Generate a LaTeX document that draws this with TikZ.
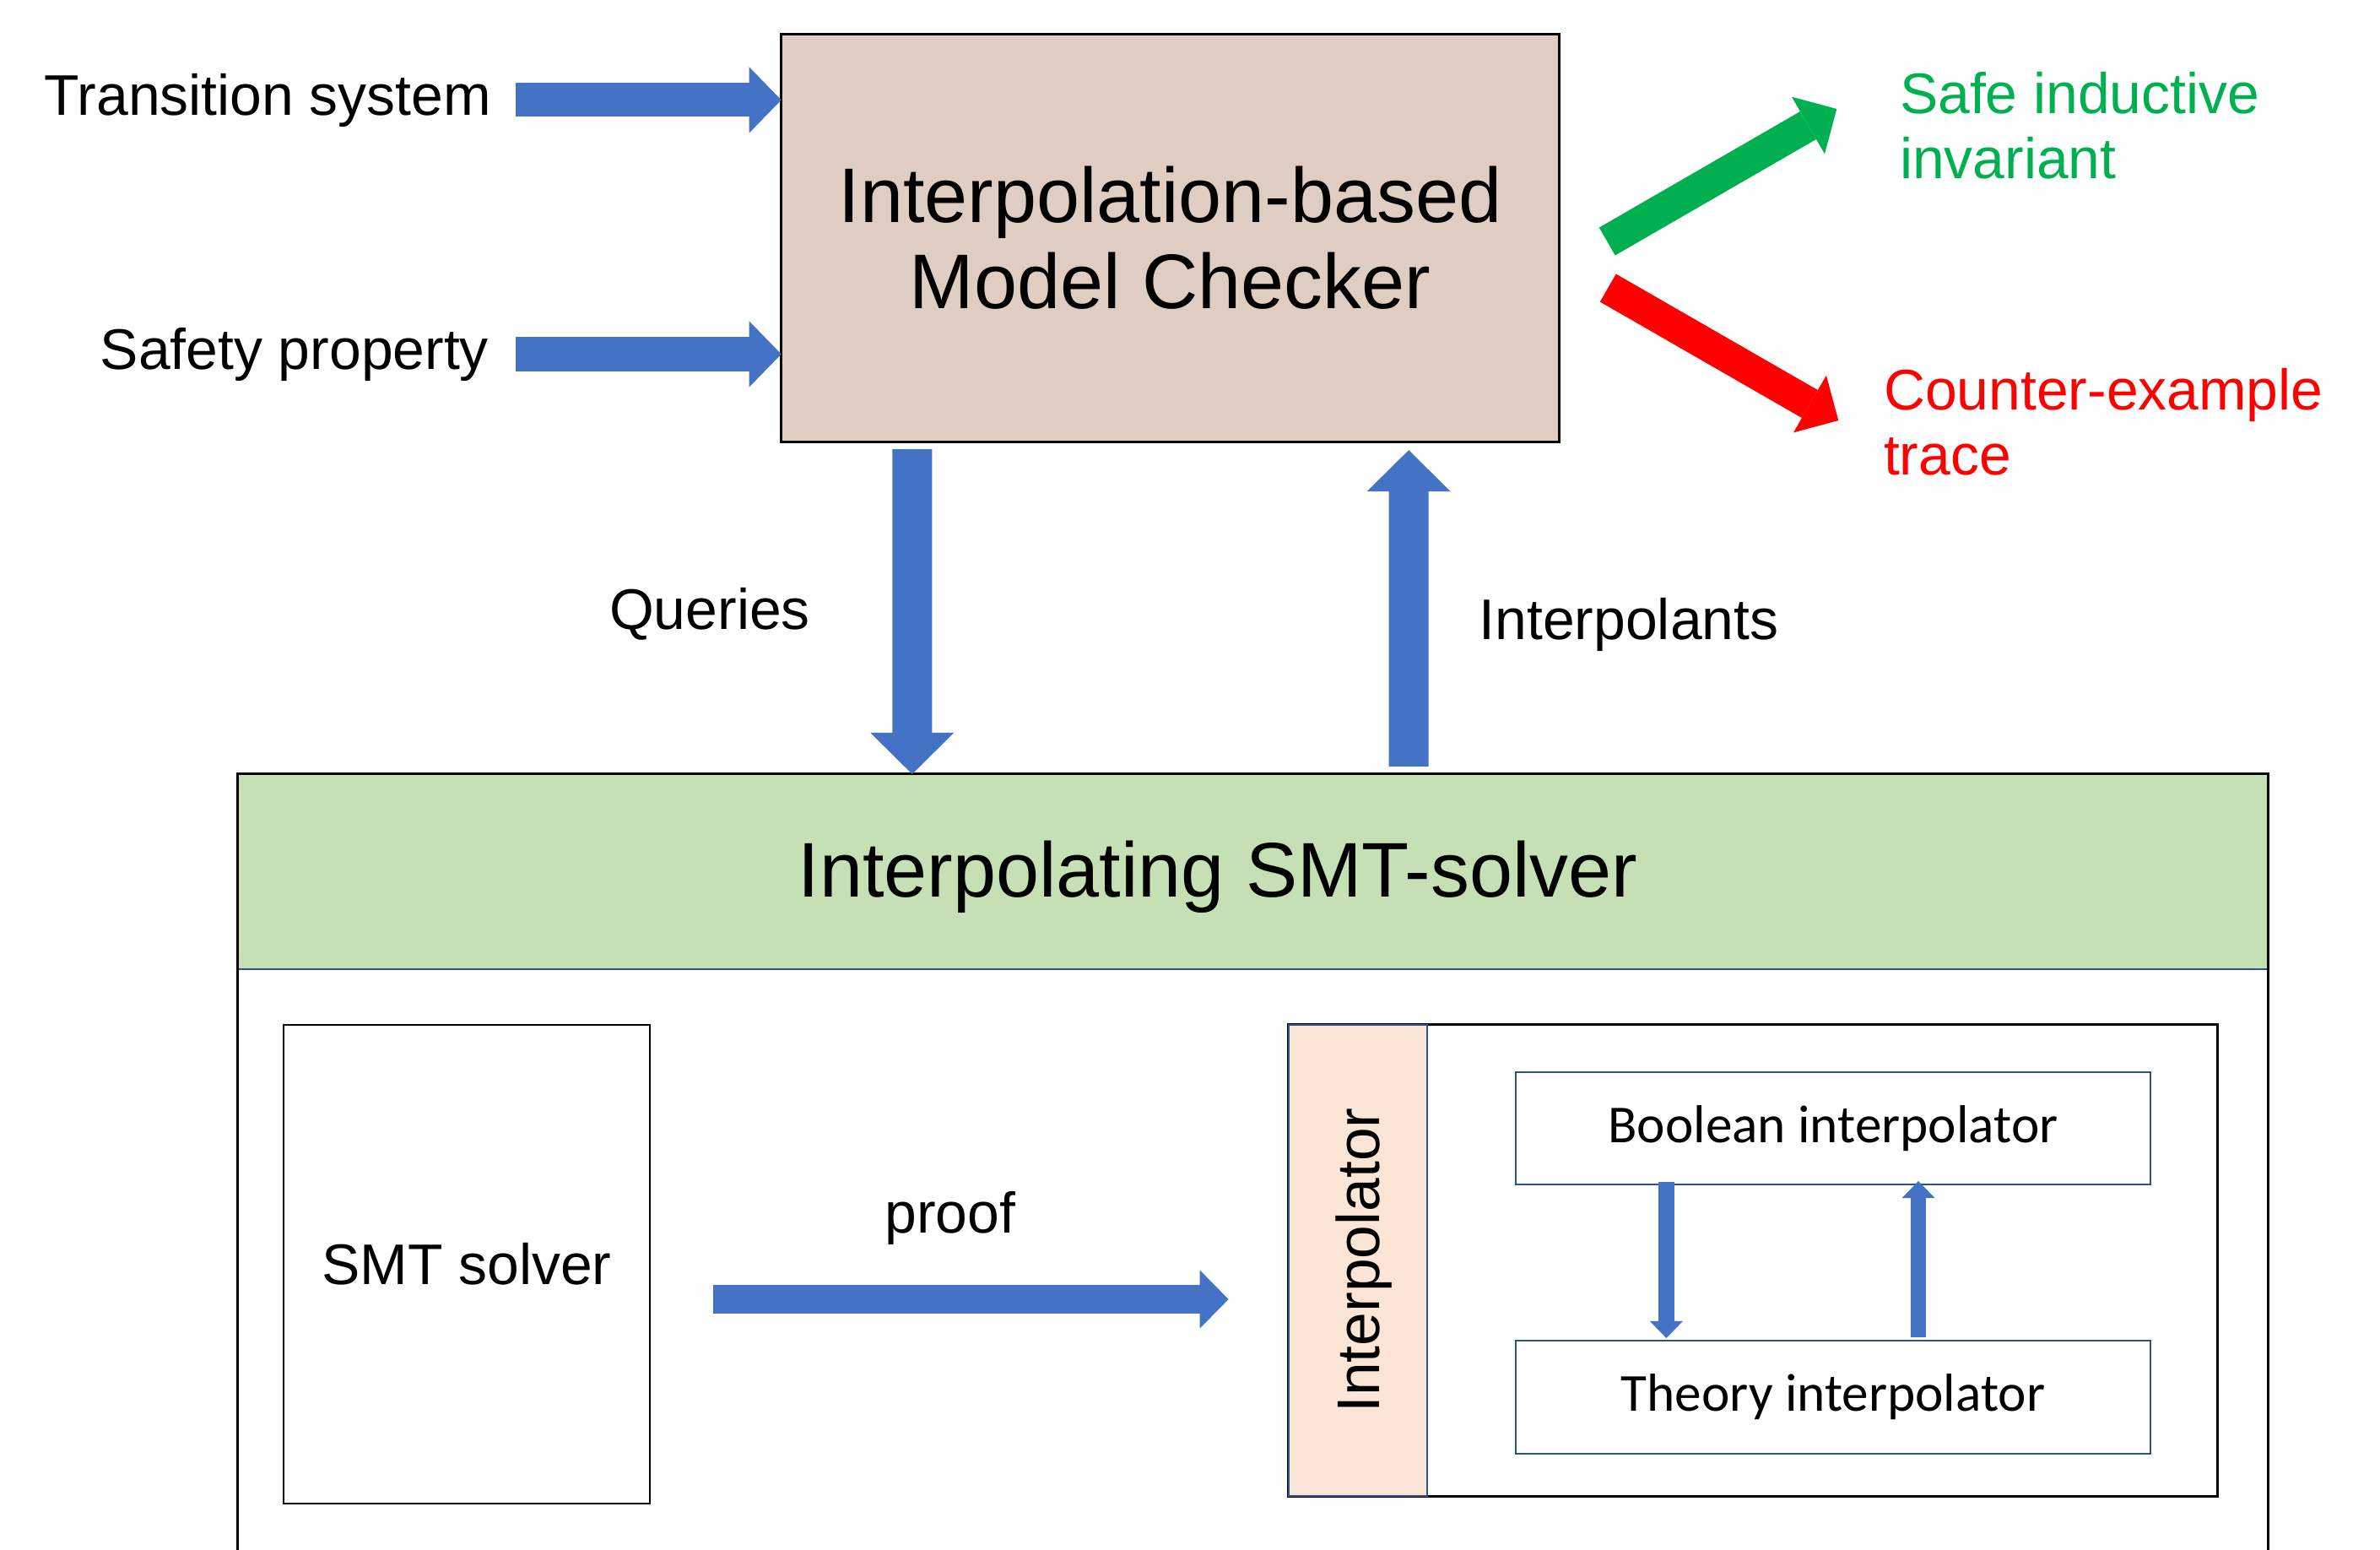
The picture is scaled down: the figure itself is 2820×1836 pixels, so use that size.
\documentclass[tikz,border=0pt]{standalone}
\usepackage{fontspec}
\setmainfont{Liberation Sans}
\newfontfamily\calibriFont{Carlito}
\usetikzlibrary{arrows.meta, calc}

\begin{document}
\begin{tikzpicture}[x=0.01cm, y=-0.01cm,
    every node/.style={outer sep=0pt},
    labelText/.style={inner sep=0pt, font=\fontsize{19.3}{22}\selectfont},
    titleText/.style={inner sep=0pt, align=center, font=\fontsize{26.1}{29}\selectfont},
    smallText/.style={inner sep=0pt, font=\calibriFont\fontsize{18}{21}\selectfont},
    inArrow/.style={draw=arrowBlue, line width=0.4cm, -{Triangle[width=0.78cm, length=0.38cm, line width=0pt]}},
    outArrow/.style={line width=0.38cm, -{Triangle[width=0.78cm, length=0.39cm, line width=0pt]}},
    vArrow/.style={draw=arrowBlue, line width=0.47cm, -{Triangle[width=0.99cm, length=0.49cm, line width=0pt]}},
    proofArrow/.style={draw=arrowBlue, line width=0.34cm, -{Triangle[width=0.69cm, length=0.34cm, line width=0pt]}},
    smallArrow/.style={draw=arrowBlue, line width=0.185cm, -{Triangle[width=0.39cm, length=0.2cm, line width=0pt]}}]
    \definecolor{arrowBlue}{HTML}{4472C4}
    \definecolor{edgeBlue}{HTML}{2F528F}
    \definecolor{checkerFill}{HTML}{E0CDC1}
    \definecolor{headerGreen}{HTML}{C5E0B4}
    \definecolor{stripFill}{HTML}{FBE5D6}
    \definecolor{safeGreen}{HTML}{00B050}
    \definecolor{failRed}{HTML}{FF0000}

    \useasboundingbox (0,0) rectangle (2820,1836);
    \coordinate (pageBottom) at (0,1836);

    % Model checker box and its inputs
    \node[draw=black, line width=0.85pt, fill=checkerFill, minimum width=9.21cm, minimum height=4.82cm, titleText] (checker) at (1386.5,282) {Interpolation-based\\Model Checker};

    \node[labelText, anchor=base east] (transSys) at (582,136) {Transition system};
    \node[labelText, anchor=base east] (safetyProp) at (579,437) {Safety property};
    \draw[inArrow, shorten <=0.29cm] (transSys.east) -- (transSys.east -| checker.west);
    \draw[inArrow, shorten <=0.32cm] (safetyProp.east) -- (safetyProp.east -| checker.west);

    % Results
    \coordinate (safeTail) at ($(checker.east)+(57,4)$);
    \coordinate (safeTip) at ($(checker.east)+(329,-153)$);
    \coordinate (failTail) at ($(checker.east)+(58,59)$);
    \coordinate (failTip) at ($(checker.east)+(331,216)$);
    \draw[outArrow, draw=safeGreen] (safeTail) -- (safeTip);
    \draw[outArrow, draw=failRed] (failTail) -- (failTip);
    \node[labelText, anchor=north west, align=left, text=safeGreen] (safeInv) at (2251,85) {Safe inductive\\invariant};
    \node[labelText, anchor=north west, align=left, text=failRed] (cexTrace) at (2232,436) {Counter-example\\trace};

    % Interpolating SMT-solver frame
    \node[fill=headerGreen, minimum width=24.05cm, minimum height=2.31cm] (smtHead) at (1484.5,1032.5) {};
    \node[titleText, anchor=base] (smtTitle) at (1443,1062) {Interpolating SMT-solver};
    \draw[edgeBlue, line width=0.6pt] (smtHead.south west) -- (smtHead.south east);
    \draw[line width=0.85pt] (smtHead.west |- pageBottom) -- (smtHead.north west) -- (smtHead.north east) -- (smtHead.east |- pageBottom);

    % Queries and interpolants
    \draw[vArrow] ([xshift=1.55cm, yshift=-0.09cm]checker.south west) -- ([xshift=7.99cm]smtHead.north west);
    \draw[vArrow] ([xshift=13.87cm, yshift=0.09cm]smtHead.north west) -- ([xshift=7.43cm, yshift=-0.1cm]checker.south west);
    \node[labelText, anchor=base] (queries) at (841,745) {Queries};
    \node[labelText, anchor=base] (interps) at (1930,757) {Interpolants};

    % SMT solver
    \node[draw=black, line width=0.7pt, minimum width=4.34cm, minimum height=5.67cm, labelText] (solver) at (553,1497.5) {SMT solver};

    % Interpolator
    \node[draw=black, line width=0.85pt, minimum width=11cm, minimum height=5.58cm] (interpBox) at (2077,1493) {};
    \node[draw=edgeBlue, fill=stripFill, line width=0.6pt, rotate=90, anchor=north, minimum width=5.58cm, minimum height=1.64cm, labelText, font=\fontsize{20.3}{23}\selectfont, text depth=0pt] (interp) at (interpBox.west) {Interpolator};
    \node[draw=edgeBlue, line width=0.6pt, minimum width=7.52cm, minimum height=1.33cm, smallText] (boolInt) at (2172,1336.5) {Boolean interpolator};
    \node[draw=edgeBlue, line width=0.6pt, minimum width=7.52cm, minimum height=1.34cm, smallText] (theoryInt) at (2172,1655) {Theory interpolator};
    \draw[smallArrow] ([xshift=-1.975cm, yshift=0.03cm]boolInt.south) -- ([xshift=-1.975cm, yshift=0.03cm]theoryInt.north);
    \draw[smallArrow] ([xshift=1.01cm, yshift=0.04cm]theoryInt.north) -- ([xshift=1.01cm, yshift=0.04cm]boolInt.south);

    % Proof
    \draw[proofArrow] ([xshift=0.75cm, yshift=-0.415cm]solver.east) -- ([xshift=-0.71cm, yshift=-0.415cm]solver.east -| interpBox.west);
    \node[labelText, anchor=base] (proofLbl) at (1126,1460) {proof};

\end{tikzpicture}
\end{document}
